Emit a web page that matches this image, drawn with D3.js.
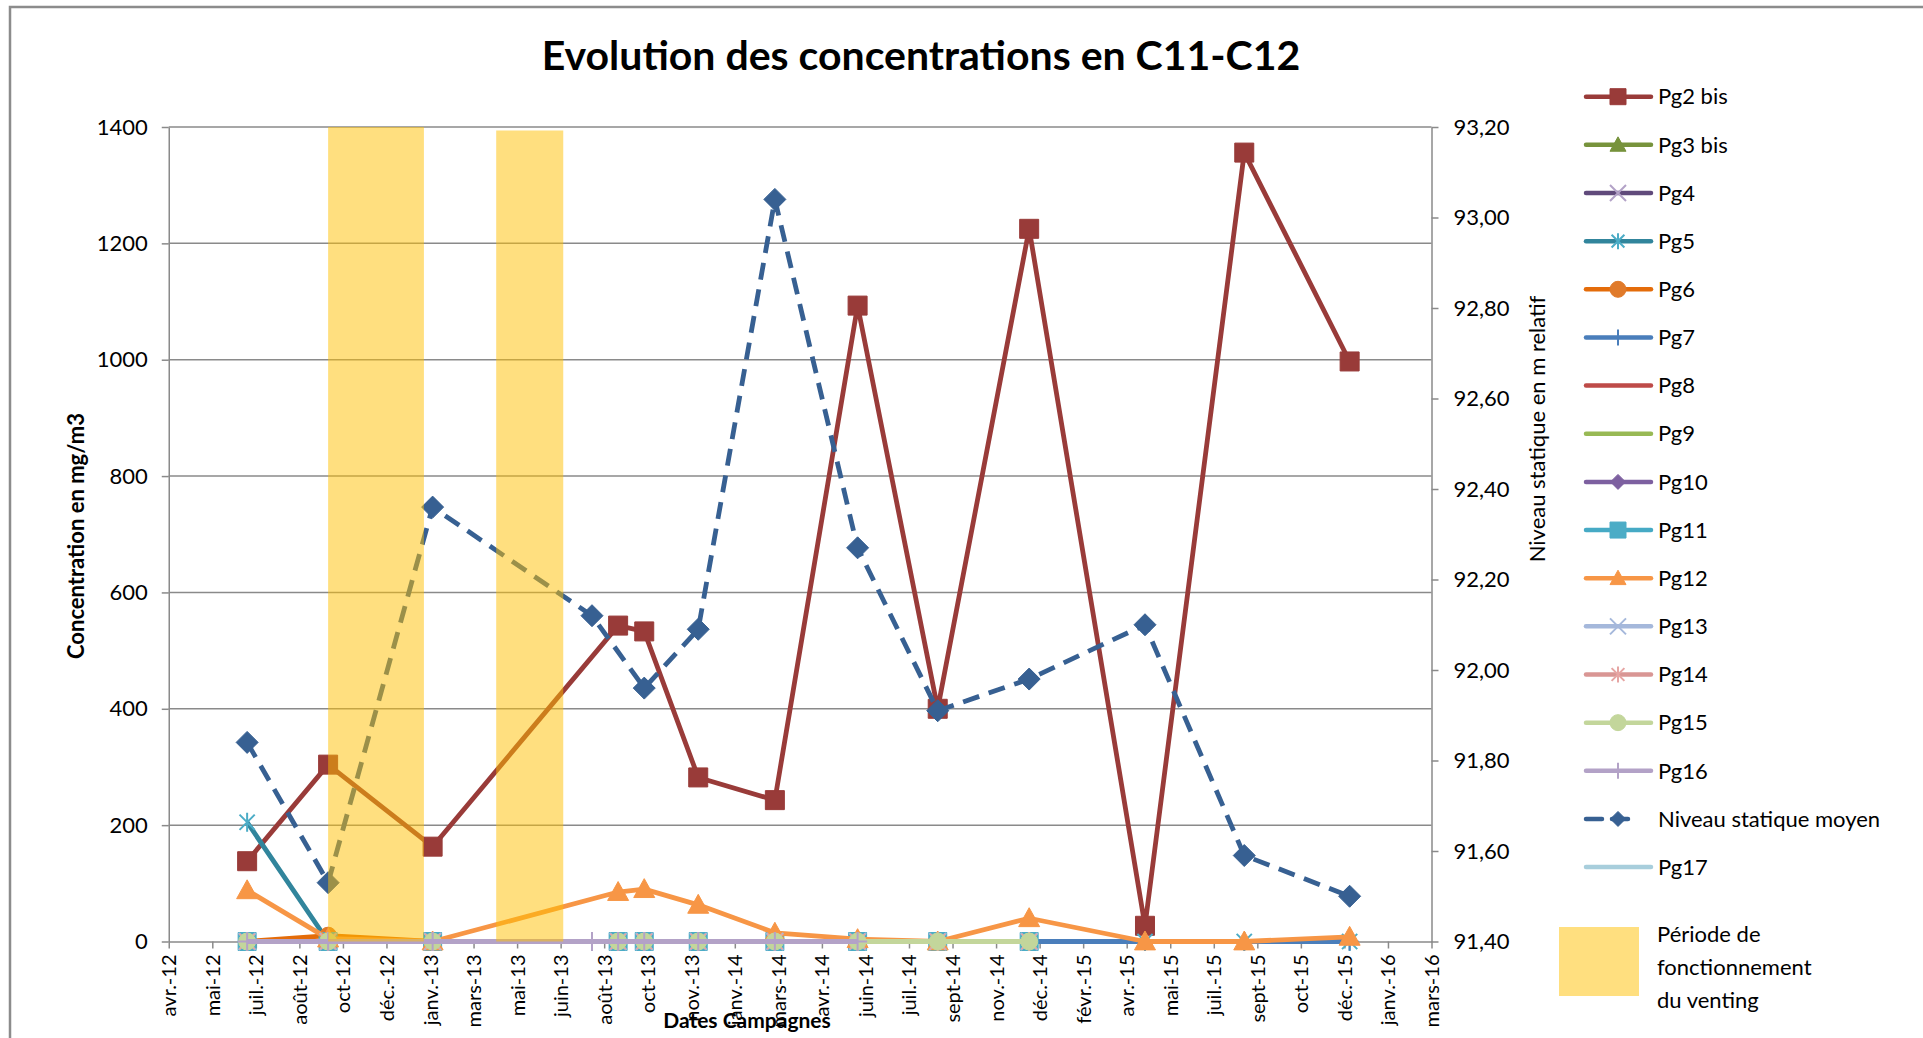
<!DOCTYPE html>
<html>
<head>
<meta charset="utf-8">
<script src="https://cdn.jsdelivr.net/npm/d3@7"></script>
<style>
  body { margin: 0; background: #fff; }
  svg text { font-family: Lato, "Open Sans", sans-serif; fill: #000; }
</style>
</head>
<body>
<div id="chart"></div>
<script>
// Dates des campagnes (index 3 = point intermédiaire juillet 2013)
const campaignDates = ["2012-06-30", "2012-10-01", "2013-01-29", "2013-07-31", "2013-08-30", "2013-09-29",
  "2013-11-30", "2014-02-26", "2014-06-01", "2014-09-01", "2014-12-15", "2015-04-27", "2015-08-19", "2015-12-18"];

// Concentrations en mg/m3 (null = pas de mesure)
const pg2bis = [138, 304, 163, null, 543, 533, 282, 243, 1093, 400, 1225, 27, 1356, 997];
const pg3bis = [null, null, null, null, null, null, null, null, null, null, null, null, null, null];
const pg4    = [null, null, null, null, null, null, null, null, null, null, null, null, null, null];
const pg5    = [205, 0, 0, null, 0, 0, 0, 0, 0, 0, 0, 0, 0, 0];
const pg6    = [0, 10, 0, null, 0, 0, 0, 0, 0, 0, 0, null, null, null];
const pg7    = [0, 0, 0, null, 0, 0, 0, 0, 0, 0, 0, 0, 0, 0];
const pg8    = [null, null, null, null, null, null, null, null, null, null, null, null, null, null];
const pg9    = [null, null, null, null, null, null, null, null, null, null, null, null, null, null];
const pg10   = [null, null, null, null, null, null, null, null, null, null, null, null, null, null];
const pg11   = [0, 0, 0, null, 0, 0, 0, 0, 0, 0, 0, null, null, null];
const pg12   = [88, 5, 0, null, 85, 90, 63, 15, 4, 0, 40, 0, 0, 8];
const pg13   = [0, 0, 0, null, 0, 0, 0, 0, 0, 0, 0, null, null, null];
const pg14   = [0, 0, 0, null, 0, 0, 0, 0, 0, 0, 0, null, null, null];
const pg15   = [0, 0, 0, null, 0, 0, 0, 0, 0, 0, 0, null, null, null];
const pg16   = [0, 0, 0, 0, 0, 0, 0, 0, 0, null, null, null, null, null];
const pg17   = [null, null, null, null, null, null, null, null, null, null, null, null, null, null];

// Niveau statique moyen (m relatif, axe secondaire)
const niveau = [91.84, 91.53, 92.36, 92.12, null, 91.96, 92.09, 93.04, 92.27, 91.91, 91.98, 92.10, 91.59, 91.50];

// Périodes de fonctionnement du venting
const ventingStart = ["2012-10-01", "2013-04-12"];
const ventingEnd   = ["2013-01-19", "2013-06-28"];
const ventingTop   = [1400, 1394];

// Axes
const xStartDate = "2012-04-01";
const xTickLabels = ["avr.-12", "mai-12", "juil.-12", "août-12", "oct-12", "déc.-12", "janv.-13", "mars-13",
  "mai-13", "juin-13", "août-13", "oct-13", "nov.-13", "janv.-14", "mars-14", "avr.-14", "juin-14", "juil.-14",
  "sept-14", "nov.-14", "déc.-14", "févr.-15", "avr.-15", "mai-15", "juil.-15", "sept-15", "oct-15", "déc.-15",
  "janv.-16", "mars-16"];
const yLeftTicks = [0, 200, 400, 600, 800, 1000, 1200, 1400];
const yRightTicks = [91.4, 91.6, 91.8, 92.0, 92.2, 92.4, 92.6, 92.8, 93.0, 93.2];

// Series table (styles)
const series = [
  {name: "Pg2 bis", values: pg2bis, color: "#993B39", mcolor: "#993B39", marker: "square", size: 19},
  {name: "Pg3 bis", values: pg3bis, color: "#77933C", mcolor: "#77933C", marker: "triangle", size: 18},
  {name: "Pg4", values: pg4, color: "#604A7B", mcolor: "#B3A2C7", marker: "x", size: 17},
  {name: "Pg5", values: pg5, color: "#31859C", mcolor: "#4BACC6", marker: "star", size: 19},
  {name: "Pg6", values: pg6, color: "#E46C0A", mcolor: "#E07A2A", marker: "circle", size: 17},
  {name: "Pg7", values: pg7, color: "#4A7EBB", mcolor: "#4A7EBB", marker: "plus", size: 18},
  {name: "Pg8", values: pg8, color: "#BE4B48", mcolor: "#BE4B48", marker: "none", size: 0},
  {name: "Pg9", values: pg9, color: "#98B954", mcolor: "#98B954", marker: "none", size: 0},
  {name: "Pg10", values: pg10, color: "#7D60A0", mcolor: "#7D60A0", marker: "diamond", size: 15},
  {name: "Pg11", values: pg11, color: "#46AAC5", mcolor: "#4BACC6", marker: "square", size: 18},
  {name: "Pg12", values: pg12, color: "#F79646", mcolor: "#F79646", marker: "triangle", size: 21},
  {name: "Pg13", values: pg13, color: "#A5B8DB", mcolor: "#A5B8DB", marker: "x", size: 17},
  {name: "Pg14", values: pg14, color: "#D99694", mcolor: "#E6A5A3", marker: "star", size: 19},
  {name: "Pg15", values: pg15, color: "#C3D69B", mcolor: "#C3D69B", marker: "circle", size: 17},
  {name: "Pg16", values: pg16, color: "#B3A2C7", mcolor: "#B3A2C7", marker: "plus", size: 19},
  {name: "Niveau statique moyen", values: niveau, color: "#376092", mcolor: "#376092", marker: "diamond", size: 22, dash: "17,10", right: true},
  {name: "Pg17", values: pg17, color: "#A8CEDC", mcolor: "#A8CEDC", marker: "none", size: 0}
];

const W = 1923, H = 1038;
const plot = {left: 168.75, right: 1431.5, top: 127, bottom: 941.5};

const parse = d3.utcParse("%Y-%m-%d");
const dates = campaignDates.map(parse);
const xStart = parse(xStartDate);
const tickDates = xTickLabels.map((_, i) => d3.utcDay.offset(xStart, i * 50));

const x = d3.scaleUtc()
    .domain([xStart, tickDates[tickDates.length - 1]])
    .range([plot.left, plot.right]);
const yL = d3.scaleLinear().domain([0, 1400]).range([plot.bottom, plot.top]);
const yR = d3.scaleLinear().domain([91.4, 93.2]).range([plot.bottom, plot.top]);

const svg = d3.select("#chart").append("svg")
    .attr("width", W)
    .attr("height", H);

// Chart frame (cut on the right / bottom like the source)
svg.append("rect")
    .attr("x", 10).attr("y", 7)
    .attr("width", W).attr("height", H)
    .attr("fill", "none")
    .attr("stroke", "#8C8C8C")
    .attr("stroke-width", 2.5);

// Gridlines
svg.append("g")
    .selectAll("line")
    .data(yLeftTicks.filter(d => d > 0))
    .join("line")
    .attr("x1", plot.left).attr("x2", plot.right)
    .attr("y1", d => yL(d)).attr("y2", d => yL(d))
    .attr("stroke", "#8A8A8A")
    .attr("stroke-width", 1.5);

function styleAxis(g, size) {
    g.selectAll("path.domain").attr("stroke", "#8A8A8A").attr("stroke-width", 1.5);
    g.selectAll(".tick line").attr("stroke", "#8A8A8A").attr("stroke-width", 1.5);
    g.selectAll("text").attr("font-size", size).attr("fill", "#000")
        .style("font-family", "Lato, 'Open Sans', sans-serif");
}

// Left axis
svg.append("g")
    .attr("transform", `translate(${plot.left},0)`)
    .call(d3.axisLeft(yL).tickValues(yLeftTicks).tickSize(7).tickSizeOuter(0).tickPadding(14)
        .tickFormat(d3.format("d")))
    .call(g => styleAxis(g, 22));

// Right axis
svg.append("g")
    .attr("transform", `translate(${plot.right},0)`)
    .call(d3.axisRight(yR).tickValues(yRightTicks).tickSize(7).tickSizeOuter(0).tickPadding(15)
        .tickFormat(d => d3.format(".2f")(d).replace(".", ",")))
    .call(g => styleAxis(g, 22));

// Bottom axis
svg.append("g")
    .attr("transform", `translate(0,${plot.bottom})`)
    .call(d3.axisBottom(x).tickValues(tickDates).tickSize(7).tickSizeOuter(0)
        .tickFormat((d, i) => xTickLabels[i]))
    .call(g => styleAxis(g, 20))
    .call(g => g.selectAll("text")
        .attr("transform", "rotate(-90)")
        .attr("text-anchor", "end")
        .attr("x", -13).attr("y", 0).attr("dy", "0.35em"));

// Marker shapes centred on 0,0
function markerPath(type, size) {
    const h = size / 2;
    switch (type) {
        case "square": return `M${-h},${-h}H${h}V${h}H${-h}Z`;
        case "diamond": return `M0,${-h}L${h},0L0,${h}L${-h},0Z`;
        case "triangle": return `M0,${-h}L${h},${h * 0.8}L${-h},${h * 0.8}Z`;
        case "circle": return d3.symbol(d3.symbolCircle, Math.PI * h * h)();
        case "x": return `M${-h},${-h}L${h},${h}M${-h},${h}L${h},${-h}`;
        case "plus": return `M${-h},0H${h}M0,${-h}V${h}`;
        case "star": return `M${-h * 0.8},${-h * 0.8}L${h * 0.8},${h * 0.8}M${-h * 0.8},${h * 0.8}L${h * 0.8},${-h * 0.8}M0,${-h}V${h}`;
        default: return "";
    }
}
const openMarkers = ["x", "plus", "star"];

function drawMarkers(g, s, pts, size, xf, yf) {
    if (s.marker === "none") return;
    const open = openMarkers.includes(s.marker);
    g.selectAll("path.mk")
        .data(pts)
        .join("path")
        .attr("class", "mk")
        .attr("d", markerPath(s.marker, size))
        .attr("transform", d => `translate(${xf(d)},${yf(d)})`)
        .attr("fill", open ? "none" : s.mcolor)
        .attr("stroke", s.mcolor)
        .attr("stroke-width", open ? 2 : 1);
}

// Series lines + markers
const seriesG = svg.append("g");
series.forEach(s => {
    const yS = s.right ? yR : yL;
    const pts = dates.map((d, i) => ({date: d, value: s.values[i]})).filter(p => p.value !== null);
    if (!pts.length) return;
    const g = seriesG.append("g");
    g.append("path")
        .datum(pts)
        .attr("fill", "none")
        .attr("stroke", s.color)
        .attr("stroke-width", 4.8)
        .attr("stroke-linejoin", "round")
        .attr("stroke-dasharray", s.dash || null)
        .attr("d", d3.line().x(p => x(p.date)).y(p => yS(p.value)));
    drawMarkers(g, s, pts, s.size, p => x(p.date), p => yS(p.value));
});

// Venting periods (semi-transparent overlay)
svg.append("g")
    .selectAll("rect")
    .data(ventingStart.map((d, i) => ({start: parse(d), end: parse(ventingEnd[i]), top: ventingTop[i]})))
    .join("rect")
    .attr("x", d => x(d.start))
    .attr("width", d => x(d.end) - x(d.start))
    .attr("y", d => yL(d.top))
    .attr("height", d => yL(0) - yL(d.top))
    .attr("fill", "#FFC000")
    .attr("fill-opacity", 0.5);

// Title and axis titles
svg.append("text")
    .attr("x", 921).attr("y", 70)
    .attr("text-anchor", "middle")
    .attr("font-size", 41).attr("font-weight", "bold")
    .text("Evolution des concentrations en C11-C12");

svg.append("text")
    .attr("transform", "translate(84,536) rotate(-90)")
    .attr("text-anchor", "middle")
    .attr("font-size", 22).attr("font-weight", "bold")
    .text("Concentration en mg/m3");

svg.append("text")
    .attr("transform", "translate(1545,429) rotate(-90)")
    .attr("text-anchor", "middle")
    .attr("font-size", 22)
    .text("Niveau statique en m relatif");

svg.append("text")
    .attr("x", 747).attr("y", 1028)
    .attr("text-anchor", "middle")
    .attr("font-size", 21).attr("font-weight", "bold")
    .text("Dates Campagnes");

// Legend
const legend = {x1: 1586, x2: 1651, xm: 1618, xt: 1658, y0: 96.7, step: 48.15};
const lg = svg.append("g");
const items = lg.selectAll("g")
    .data(series)
    .join("g")
    .attr("transform", (d, i) => `translate(0,${legend.y0 + i * legend.step})`);
items.append("line")
    .attr("x1", legend.x1)
    .attr("x2", d => d.dash ? legend.x2 - 14 : legend.x2)
    .attr("stroke", d => d.color)
    .attr("stroke-width", 4.5)
    .attr("stroke-linecap", "round")
    .attr("stroke-dasharray", d => d.dash ? "16,10" : null);
items.each(function (s) {
    drawMarkers(d3.select(this), s, [0], s.marker === "diamond" ? 15 : 16, () => legend.xm, () => 0);
});
items.append("text")
    .attr("x", legend.xt)
    .attr("dy", "0.35em")
    .attr("font-size", 22)
    .text(d => d.name);

// Venting legend
svg.append("rect")
    .attr("x", 1559).attr("y", 927)
    .attr("width", 80).attr("height", 69)
    .attr("fill", "#FFC000")
    .attr("fill-opacity", 0.5);
svg.append("text")
    .attr("font-size", 22)
    .selectAll("tspan")
    .data(["Période de", "fonctionnement", "du venting"])
    .join("tspan")
    .attr("x", 1657)
    .attr("y", (d, i) => 942 + i * 33)
    .text(d => d);
</script>
</body>
</html>
